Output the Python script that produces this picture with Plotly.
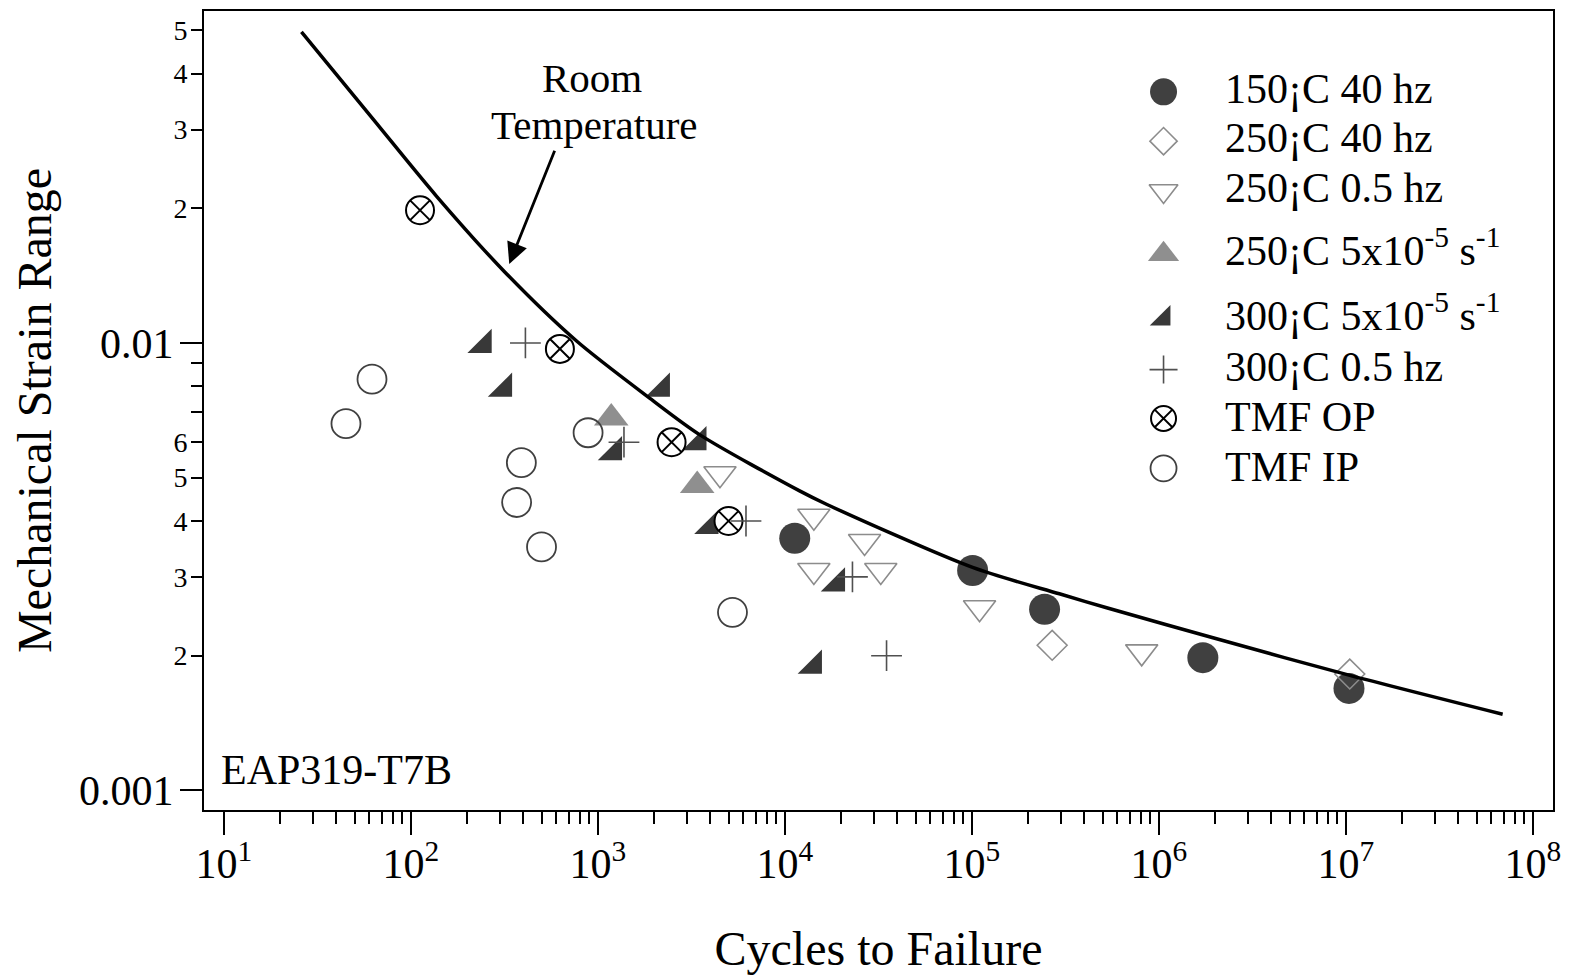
import numpy as np
import plotly.graph_objects as go

FONT = "Liberation Serif, Times New Roman, Times, serif"

# ---------------- data ----------------
# Room-temperature strain-life curve
rt_cycles = [26, 63, 137, 316, 770, 1900, 3500, 12000, 16700, 101000,
             294000, 526000, 1.97e6, 1.04e7, 6.9e7]
rt_strain = [0.0496, 0.0316, 0.0213, 0.01445, 0.0101, 0.00752, 0.00624,
             0.00467, 0.00436, 0.00315, 0.00275, 0.00256, 0.00219, 0.00181,
             0.00148]

# 150 C, 40 Hz
n_150_40 = [11300, 101000, 245000, 1.72e6, 1.04e7]
e_150_40 = [0.00366, 0.0031, 0.00254, 0.00198, 0.00169]

# 250 C, 40 Hz
n_250_40 = [269000, 1.05e7]
e_250_40 = [0.00211, 0.00182]

# 250 C, 0.5 Hz
n_250_05 = [4500, 14300, 26700, 14300, 32600, 110000, 810000]
e_250_05 = [0.0051, 0.0041, 0.0036, 0.0031, 0.0031, 0.00256, 0.00204]

# 250 C, 5e-5 1/s
n_250_slow = [1180, 3400]
e_250_slow = [0.0068, 0.0048]

# 300 C, 5e-5 1/s
n_300_slow = [245, 315, 2200, 1220, 3450, 4000, 19000, 14300]
e_300_slow = [0.0099, 0.0079, 0.0079, 0.0057, 0.0060, 0.0039, 0.0029, 0.0019]

# 300 C, 0.5 Hz
n_300_05 = [410, 1380, 6200, 23000, 35000]
e_300_05 = [0.0100, 0.0060, 0.0040, 0.0030, 0.0020]

# thermomechanical fatigue, out-of-phase
n_tmf_op = [112, 627, 2480, 5000]
e_tmf_op = [0.0198, 0.0097, 0.0060, 0.0040]

# thermomechanical fatigue, in-phase
n_tmf_ip = [45, 62, 390, 368, 500, 887, 5250]
e_tmf_ip = [0.0066, 0.0083, 0.0054, 0.0044, 0.0035, 0.0063, 0.0025]

# axis tick values
x_major = [1e1, 1e2, 1e3, 1e4, 1e5, 1e6, 1e7, 1e8]
x_major_text = ["10<sup>%d</sup>" % d for d in range(1, 9)]
y_major = [0.001, 0.01]
y_major_text = ["0.001", "0.01"]
y_small = [0.002, 0.003, 0.004, 0.005, 0.006, 0.02, 0.03, 0.04, 0.05]
y_small_text = ["2", "3", "4", "5", "6", "2", "3", "4", "5"]

# ---------------- styles ----------------
DARK = "#404040"
GRAY = "#8c8c8c"

series = [
    # key, label, x, y, symbol, size, fill, line colour, line width, legend size
    ("c150", "150¡C 40 hz", n_150_40, e_150_40, "circle", 31, DARK, DARK, 0, 27),
    ("c250s", "250¡C 5x10<sup>-5</sup> s<sup>-1</sup>", n_250_slow, e_250_slow,
     "triangle-up", 30, "#8f8f8f", "#8f8f8f", 0, 27),
    ("c300s", "300¡C 5x10<sup>-5</sup> s<sup>-1</sup>", n_300_slow, e_300_slow,
     "triangle-se", 27, "#383838", "#383838", 0, 23),
    ("c250h", "250¡C 0.5 hz", n_250_05, e_250_05, "triangle-down-open", 28,
     GRAY, GRAY, 1.6, 25),
    ("c250f", "250¡C 40 hz", n_250_40, e_250_40, "diamond-open", 23,
     GRAY, GRAY, 1.6, 21),
    ("op", "TMF OP", n_tmf_op, e_tmf_op, "circle-x", 28, "white", "black", 2, 25),
    ("c300h", "300¡C 0.5 hz", n_300_05, e_300_05, "cross-thin-open", 22,
     "#505050", "#505050", 1.6, 20),
    ("ip", "TMF IP", n_tmf_ip, e_tmf_ip, "circle-open", 29, DARK, DARK, 1.8, 26),
]
legend_order = ["c150", "c250f", "c250h", "c250s", "c300s", "c300h", "op", "ip"]

fig = go.Figure()

for key, label, xs, ys, sym, size, fill, lc, lw, _ in series:
    fig.add_trace(go.Scatter(
        x=xs, y=ys, mode="markers", name=label, showlegend=False,
        marker=dict(symbol=sym, size=size, color=fill,
                    line=dict(color=lc, width=lw)),
        xaxis="x", yaxis="y"))

# the curve sits on the overlaid strain axis (same range), drawn above markers
fig.add_trace(go.Scatter(
    x=rt_cycles, y=rt_strain, mode="lines", showlegend=False,
    line=dict(color="black", width=3.5, shape="spline", smoothing=0.8),
    xaxis="x", yaxis="y2"))

# ---------------- legend (keys on a helper axis overlaying the plot) ----
leg_key_x = 0.7113
leg_text_x = 0.755
leg_baseline = [0.8823, 0.8206, 0.7582, 0.6792, 0.5984, 0.5347, 0.4735, 0.4111]
key_lift = 0.0165
style = {s[0]: s for s in series}
for i, key in enumerate(legend_order):
    _, label, _, _, sym, _, fill, lc, lw, lsize = style[key]
    fig.add_trace(go.Scatter(
        x=[leg_key_x], y=[leg_baseline[i] + key_lift], mode="markers",
        showlegend=False, hoverinfo="skip",
        marker=dict(symbol=sym, size=lsize, color=fill,
                    line=dict(color=lc, width=lw)),
        xaxis="x3", yaxis="y3"))

annotations = []
for i, key in enumerate(legend_order):
    annotations.append(dict(
        x=leg_text_x, y=leg_baseline[i], xref="x3", yref="y3",
        text=style[key][1], showarrow=False, xanchor="left", yanchor="bottom",
        yshift=-10, font=dict(family=FONT, size=42, color="black")))

# curve label with arrow
arrow_tip = (336, 0.01502)
arrow_tail = (592, 0.0271)
annotations.append(dict(
    x=np.log10(arrow_tip[0]), y=np.log10(arrow_tip[1]), xref="x", yref="y",
    ax=np.log10(arrow_tail[0]), ay=np.log10(arrow_tail[1]), axref="x", ayref="y",
    text="", showarrow=True, arrowhead=2, arrowsize=1.5, arrowwidth=2.8,
    arrowcolor="black"))
annotations.append(dict(
    x=(592.5 - 204) / 1350, y=(810 - 91.7) / 801, xref="paper", yref="paper",
    text="Room", showarrow=False, xanchor="center", yanchor="bottom",
    yshift=-10, font=dict(family=FONT, size=41, color="black")))
annotations.append(dict(
    x=(594.7 - 204) / 1350, y=(810 - 138.3) / 801, xref="paper", yref="paper",
    text="Temperature", showarrow=False, xanchor="center", yanchor="bottom",
    yshift=-10, font=dict(family=FONT, size=41, color="black")))
annotations.append(dict(
    x=(219 - 204) / 1350, y=(810 - 785) / 801, xref="paper", yref="paper",
    text="EAP319-T7B", showarrow=False, xanchor="left", yanchor="bottom",
    yshift=-10, font=dict(family=FONT, size=42, color="black")))

x_minor = [k * 10 ** d for d in range(1, 8) for k in range(2, 10)]
y_minor = [k * 1e-3 for k in range(2, 10)] + [k * 1e-2 for k in range(2, 6)]
x_range = [0.894, 8.108]
y_range = [-3.0439, -1.258]

fig.update_layout(
    width=1570, height=977,
    margin=dict(l=204, r=16, t=9, b=167),
    paper_bgcolor="white", plot_bgcolor="white",
    font=dict(family=FONT, color="black"),
    showlegend=False,
    xaxis=dict(
        type="log", range=x_range, showgrid=False, zeroline=False,
        showline=True, linecolor="black", linewidth=2, mirror=True,
        tickmode="array", tickvals=x_major, ticktext=x_major_text,
        ticks="outside", ticklen=23, tickwidth=2, tickcolor="black",
        tickfont=dict(size=42), ticklabelstandoff=-7,
        minor=dict(tickmode="array", tickvals=x_minor, ticks="outside",
                   ticklen=12, tickwidth=2, tickcolor="black", showgrid=False),
        title=dict(text="Cycles to Failure", font=dict(size=48), standoff=45),
    ),
    yaxis=dict(
        type="log", range=y_range, showgrid=False, zeroline=False,
        showline=True, linecolor="black", linewidth=2, mirror=True,
        tickmode="array", tickvals=y_major, ticktext=y_major_text,
        ticks="outside", ticklen=22, tickwidth=2, tickcolor="black",
        tickfont=dict(size=42), ticklabelstandoff=-2,
        minor=dict(tickmode="array", tickvals=y_minor, ticks="outside",
                   ticklen=11, tickwidth=2, tickcolor="black", showgrid=False),
        title=dict(text="Mechanical Strain Range", font=dict(size=48),
                   standoff=12),
    ),
    yaxis2=dict(
        type="log", range=y_range, overlaying="y", side="left", anchor="x",
        showgrid=False, zeroline=False, showline=False,
        tickmode="array", tickvals=y_small, ticktext=y_small_text,
        ticks="outside", ticklen=11, tickwidth=2, tickcolor="black",
        tickfont=dict(size=28), ticklabelstandoff=-1,
    ),
    xaxis3=dict(overlaying="x", range=[0, 1], anchor="y3", visible=False,
                fixedrange=True),
    yaxis3=dict(overlaying="y", range=[0, 1], anchor="x3", visible=False,
                fixedrange=True),
    annotations=annotations,
)

fig.write_html("out.html")
